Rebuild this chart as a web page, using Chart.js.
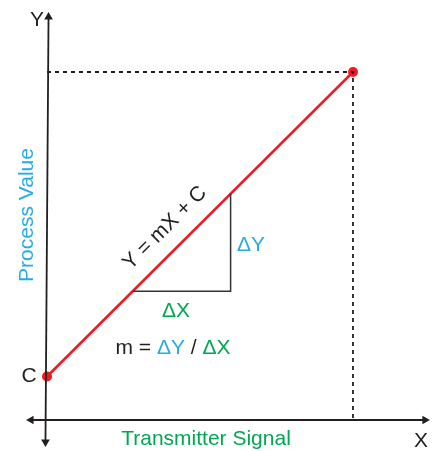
<!DOCTYPE html>
<html>
<head>
<meta charset="utf-8">
<script src="https://cdn.jsdelivr.net/npm/chart.js@4/dist/chart.umd.min.js"></script>
<style>
  html, body { margin: 0; padding: 0; background: #fff; }
  #wrap { width: 432px; height: 451px; position: relative; }
</style>
</head>
<body>
<div id="wrap"><canvas id="line-chart"></canvas></div>
<script>
// Straight line Y = mX + C (transmitter signal vs process value)
const lineX = [0, 10];
const lineY = [1.25, 10];
// Slope triangle
const triX = [2.8, 6, 6];
const triY = [3.7, 3.7, 6.5];
// Dashed guide lines to the end point
const guideX = [0, 10, 10];
const guideY = [10, 10, 0];
// Axis ends (arrows)
const xAxisX = [-0.52, 12.35];
const xAxisY = [0, 0];
const yAxisX = [-0.05, 0.05];
const yAxisY = [-0.63, 11.58];

const toPoints = (xs, ys) => xs.map((x, i) => ({ x: x, y: ys[i] }));

const BLACK = '#231f20';
const RED = '#ed1c24';
const BLUE = '#29abe2';
const GREEN = '#00a651';
const FONT = '"Liberation Sans", Arial, sans-serif';

// Text labels drawn on top of the chart
const labelPlugin = {
    id: 'labels',
    afterDatasetsDraw(chart) {
        const ctx = chart.ctx;
        const xs = chart.scales.x;
        const ys = chart.scales.y;
        ctx.save();
        ctx.font = '21px ' + FONT;
        ctx.textBaseline = 'middle';
        ctx.textAlign = 'center';

        ctx.fillStyle = BLACK;
        ctx.fillText('Y', 37, 20);
        ctx.fillText('X', 421, 441);
        ctx.fillText('C', xs.getPixelForValue(lineX[0]) - 18, ys.getPixelForValue(lineY[0]));

        ctx.fillStyle = GREEN;
        ctx.fillText('Transmitter Signal', 206, 439);
        ctx.fillText('ΔX', 176, 311);

        ctx.fillStyle = BLUE;
        ctx.fillText('ΔY', 251, 245);

        // m = ΔY / ΔX in mixed colours
        const parts = [['m = ', BLACK], ['ΔY', BLUE], [' / ', BLACK], ['ΔX', GREEN]];
        const total = parts.reduce((s, p) => s + ctx.measureText(p[0]).width, 0);
        let px = 173 - total / 2;
        ctx.textAlign = 'left';
        parts.forEach(p => {
            ctx.fillStyle = p[1];
            ctx.fillText(p[0], px, 348);
            px += ctx.measureText(p[0]).width;
        });

        // Process Value (vertical)
        ctx.textAlign = 'center';
        ctx.fillStyle = BLUE;
        ctx.save();
        ctx.translate(27, 215);
        ctx.rotate(-Math.PI / 2);
        ctx.fillText('Process Value', 0, 0);
        ctx.restore();

        // Equation along the line
        const x0 = xs.getPixelForValue(lineX[0]), y0 = ys.getPixelForValue(lineY[0]);
        const x1 = xs.getPixelForValue(lineX[1]), y1 = ys.getPixelForValue(lineY[1]);
        ctx.fillStyle = BLACK;
        ctx.save();
        ctx.translate(165, 228);
        ctx.rotate(Math.atan2(y1 - y0, x1 - x0));
        ctx.fillText('Y = mX + C', 0, 0);
        ctx.restore();

        ctx.restore();
    }
};

const lineChart = document.getElementById('line-chart').getContext('2d');
const lineChartInstance = new Chart(lineChart, {
    type: 'scatter',
    data: {
        datasets: [
            {
                data: toPoints(guideX, guideY),
                showLine: true,
                borderColor: BLACK,
                borderWidth: 1.8,
                borderDash: [4, 4],
                pointRadius: 0
            },
            {
                data: toPoints(triX, triY),
                showLine: true,
                borderColor: '#333',
                borderWidth: 1.5,
                pointRadius: 0
            },
            {
                data: toPoints(xAxisX, xAxisY),
                showLine: true,
                borderColor: BLACK,
                borderWidth: 1.8,
                pointStyle: 'triangle',
                pointRotation: [-90, 90],
                pointRadius: 5,
                pointBackgroundColor: BLACK,
                pointBorderColor: BLACK,
                pointBorderWidth: 0
            },
            {
                data: toPoints(yAxisX, yAxisY),
                showLine: true,
                borderColor: BLACK,
                borderWidth: 1.8,
                pointStyle: 'triangle',
                pointRotation: [180, 0],
                pointRadius: 5,
                pointBackgroundColor: BLACK,
                pointBorderColor: BLACK,
                pointBorderWidth: 0
            },
            {
                data: toPoints(lineX, lineY),
                showLine: true,
                borderColor: RED,
                borderWidth: 2.5,
                pointRadius: 5,
                pointBackgroundColor: RED,
                pointBorderColor: RED,
                pointBorderWidth: 0
            }
        ]
    },
    options: {
        responsive: true,
        maintainAspectRatio: false,
        animation: false,
        clip: false,
        layout: { padding: 0, autoPadding: false },
        plugins: {
            legend: { display: false },
            tooltip: { enabled: false }
        },
        scales: {
            x: { type: 'linear', min: -1.536, max: 12.582, display: false },
            y: { type: 'linear', min: -0.891, max: 12.069, display: false }
        }
    },
    plugins: [labelPlugin]
});
</script>
</body>
</html>
